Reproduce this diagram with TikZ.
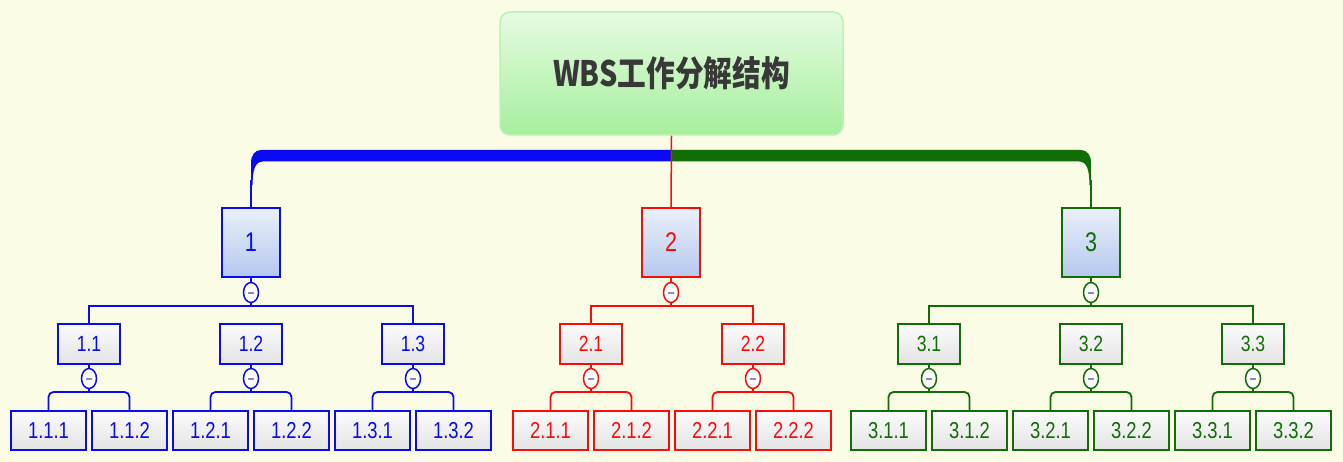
\documentclass[tikz,border=0pt]{standalone}
\usepackage{fontspec}
\usetikzlibrary{shapes.geometric}
\newfontfamily\numf[FakeStretch=0.8]{Liberation Sans}
\newfontfamily\cjkf[FakeStretch=0.82]{Noto Sans CJK SC}
\definecolor{bgc}{HTML}{FAFCE5}
\definecolor{cb}{HTML}{0A0AF5}
\definecolor{cr}{HTML}{FF0A0A}
\definecolor{cg}{HTML}{116E06}
\definecolor{roottop}{HTML}{E6FBE2}
\definecolor{rootbot}{HTML}{A6EF9C}
\definecolor{rootbd}{HTML}{B9F3B2}
\definecolor{roottx}{HTML}{383838}
\definecolor{onetop}{HTML}{EBF0FA}
\definecolor{onebot}{HTML}{B4C8EE}
\definecolor{boxtop}{HTML}{FBFBFB}
\definecolor{boxbot}{HTML}{E4E4E4}
\definecolor{mgray}{HTML}{8490C4}
\newcommand\mns{\textcolor{mgray}{\rule[-1pt]{6pt}{2pt}}}
\tikzset{
  wire/.style={draw=#1, line width=1.8pt},
  rootbox/.style={draw=rootbd, line width=1.5pt, rounded corners=10pt, top color=roottop, bottom color=rootbot,
    minimum width=343pt, minimum height=123pt, inner sep=0pt, text=roottx, font=\cjkf\bfseries\fontsize{35}{40}\selectfont},
  boxone/.style={draw=#1, line width=2pt, top color=onetop, bottom color=onebot, text=#1,
    minimum width=58pt, minimum height=69pt, inner sep=0pt, font=\numf\fontsize{27}{30}\selectfont},
  boxtwo/.style={draw=#1, line width=1.8pt, top color=boxtop, bottom color=boxbot, text=#1,
    minimum width=62pt, minimum height=40pt, inner sep=0pt, font=\numf\fontsize{22}{24}\selectfont},
  boxthree/.style={draw=#1, line width=1.8pt, top color=boxtop, bottom color=boxbot, text=#1,
    minimum width=75pt, minimum height=39pt, inner sep=0pt, font=\numf\fontsize{23}{26}\selectfont},
  knob/.style={ellipse, draw=#1, line width=1.5pt, fill=white, minimum width=15pt, minimum height=20pt, inner sep=0pt}
}
\newcommand\kidnode[4]{%
  \node[boxtwo=#1] (n#2) at (#4,344) {#3};
  \node[knob=#1] (c#2) at (#4,378.5) {\mns};
  \node[boxthree=#1] (n#21) at (#4-40.5,430.5) {#3.1};
  \node[boxthree=#1] (n#22) at (#4+40.5,430.5) {#3.2};
  \draw[wire=#1] (n#2.south) -- (c#2.north);
  \draw[wire=#1] (c#2.south) -- (c#2.south |- 0,392);
  \draw[wire=#1, rounded corners=5pt] (n#21.north) |- (n#22.north |- 0,392) -- (n#22.north);
}
\begin{document}
\begin{tikzpicture}[x=1pt,y=-1pt]
\fill[bgc] (0,0) rectangle (1343,462);
\useasboundingbox (0,0) rectangle (1343,462);
% thick bars
\fill[cb] (671,150) -- (261,150) .. controls (255,150) and (251,155) .. (251,163) -- (251,185) -- (252.6,185) .. controls (252.6,170) and (255,161.5) .. (263,161.5) -- (671,161.5) -- cycle;
\begin{scope}[xshift=1342pt, xscale=-1]
\fill[cg] (671,150) -- (261,150) .. controls (255,150) and (251,155) .. (251,163) -- (251,185) -- (252.6,185) .. controls (252.6,170) and (255,161.5) .. (263,161.5) -- (671,161.5) -- cycle;
\end{scope}
\coordinate (barl) at (251,180);
\coordinate (barr) at (1091,180);
% root
\node[rootbox] (root) at (671.5,73.5) {WBS工作分解结构};
% level one
\node[boxone=cb] (n1) at (251,242.5) {1};
\node[boxone=cr] (n2) at (671,242.5) {2};
\node[boxone=cg] (n3) at (1091,242.5) {3};
\draw[wire=cb] (barl) -- (n1.north);
\draw[wire=cg] (barr) -- (n3.north);
\draw[draw=cr, line width=1.5pt] (root.south) -- (n2.north);
\node[knob=cb] (c1) at (251,292.5) {\mns};
\node[knob=cr] (c2) at (671,292.5) {\mns};
\node[knob=cg] (c3) at (1091,292.5) {\mns};
\foreach \k/\cc in {1/cb,2/cr,3/cg}{
  \draw[wire=\cc] (n\k.south) -- (c\k.north);
  \draw[wire=\cc] (c\k.south) -- (c\k.south |- 0,306);
}
% level two and three
\kidnode{cb}{11}{1.1}{89}
\kidnode{cb}{12}{1.2}{251}
\kidnode{cb}{13}{1.3}{413}
\kidnode{cr}{21}{2.1}{591}
\kidnode{cr}{22}{2.2}{753}
\kidnode{cg}{31}{3.1}{929}
\kidnode{cg}{32}{3.2}{1091}
\kidnode{cg}{33}{3.3}{1253}
\draw[wire=cb] (n11.north) |- (n13.north |- 0,306) -- (n13.north);
\draw[wire=cr] (n21.north) |- (n22.north |- 0,306) -- (n22.north);
\draw[wire=cg] (n31.north) |- (n33.north |- 0,306) -- (n33.north);
\end{tikzpicture}
\end{document}
